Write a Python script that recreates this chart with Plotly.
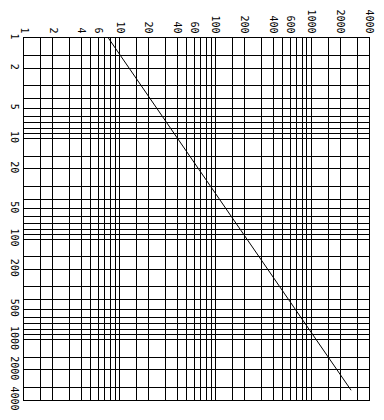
import plotly.graph_objects as go
import math

# grid values (graph paper lines)
x_grid = [1, 1.5, 2, 3, 4, 5, 6, 7, 8, 9,
          10, 15, 20, 30, 40, 50, 60, 70, 80, 90,
          100, 150, 200, 300, 400, 500, 600, 700, 800, 900,
          1000, 1500, 2000, 3000, 4000]
y_grid = [1, 1.5, 2, 3, 4, 5, 6, 7, 8, 9,
          10, 15, 20, 30, 40, 50, 60, 70, 80, 90,
          100, 150, 200, 300, 400, 500, 600, 700, 800, 900,
          1000, 1500, 2000, 3000, 4000]

# labelled ticks
x_labels = [1, 2, 4, 6, 10, 20, 40, 60, 100, 200, 400, 600, 1000, 2000, 4000]
y_labels = [1, 2, 5, 10, 20, 50, 100, 200, 500, 1000, 2000, 4000]

# line
line_x = [7.6, 40, 2600]
line_y = [1, 10, 3200]

x_text = [str(v) if v in x_labels else "" for v in x_grid]
y_text = [str(v) if v in y_labels else "" for v in y_grid]

fig = go.Figure()
fig.add_trace(go.Scatter(x=line_x, y=line_y, mode="lines",
                         line=dict(color="black", width=1), showlegend=False,
                         hoverinfo="skip"))

font = dict(family="DejaVu Sans Mono", size=10, color="black")

fig.update_layout(
    width=384, height=420,
    margin=dict(l=20, r=9, t=29, b=17),
    paper_bgcolor="white", plot_bgcolor="white",
    xaxis=dict(type="log", range=[0, math.log10(4000)], side="top",
               tickmode="array", tickvals=x_grid, ticktext=x_text,
               tickangle=90, tickfont=font, ticks="",
               showgrid=True, gridcolor="black", gridwidth=1,
               showline=True, linecolor="black", linewidth=1, mirror=True,
               zeroline=False, fixedrange=True),
    yaxis=dict(type="log", range=[math.log10(4000), 0],
               tickmode="array", tickvals=y_grid, ticktext=y_text,
               tickangle=90, tickfont=font, ticks="",
               showgrid=True, gridcolor="black", gridwidth=1,
               showline=True, linecolor="black", linewidth=1, mirror=True,
               zeroline=False, fixedrange=True),
)

fig.write_html("out.html")
